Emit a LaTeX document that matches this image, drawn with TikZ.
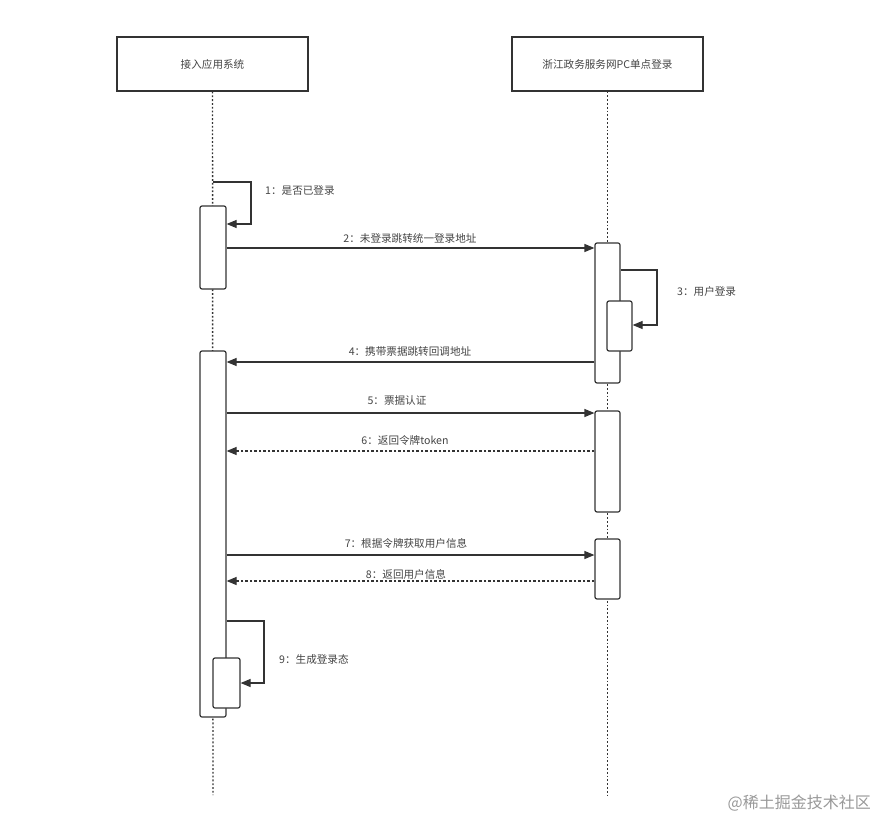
\documentclass[tikz,border=0pt]{standalone}
\usepackage{fontspec}
\setmainfont{Noto Sans CJK SC}
\newfontfamily\cjk{Noto Sans CJK SC}
\usetikzlibrary{arrows.meta}
\definecolor{ln}{HTML}{333333}
\definecolor{tx}{HTML}{444444}
\tikzset{
  actor/.style={draw=ln, line width=1.3pt, fill=white, minimum width=191pt, minimum height=54pt, inner sep=0pt, text=tx, font=\cjk\fontsize{10.6}{12}\selectfont},
  bar/.style={draw=ln, line width=1.2pt, fill=white, rounded corners=2pt, minimum width=25pt, inner sep=0pt},
  lifeline/.style={draw=ln, line width=1.4pt, dash pattern=on 1.8pt off 2pt},
  msg/.style={draw=ln, line width=1.2pt, -{Triangle[length=10pt,width=8pt]}},
  ret/.style={msg, dash pattern=on 2.5pt off 2pt},
  lbl/.style={text=tx, font=\cjk\fontsize{10.6}{12}\selectfont, inner sep=1pt},
}
\begin{document}
\begin{tikzpicture}[x=1pt,y=-1pt]
\useasboundingbox[fill=white] (0,0) rectangle (875,821);
% actors
\node[actor] (a) at (212.5,64) {接入应用系统};
\node[actor] (s) at (607.5,64) {浙江政务服务网PC单点登录};
\coordinate (aend) at (213,795);
\coordinate (send) at (607.5,795);
\draw[lifeline] (a.south) -- (aend);
\draw[lifeline] (s.south) -- (send);
% activation bars
\node[bar, minimum width=26pt, minimum height=83pt] (b1) at (213,247.5) {};
\node[bar, minimum height=140pt] (r1) at (607.5,313) {};
\node[bar, minimum height=50pt] (r1n) at (619.5,326) {};
\node[bar, minimum width=26pt, minimum height=366pt] (b2) at (213,534) {};
\node[bar, minimum height=101pt] (r2) at (607.5,461.5) {};
\node[bar, minimum height=60pt] (r3) at (607.5,569) {};
\node[bar, minimum width=27pt, minimum height=50pt] (b2n) at (226.5,683) {};
% 1 self call
\coordinate (l1s) at (213,182);
\draw[msg] (l1s) -- (251,182) -- (251,224) -- (b1.east |- 0,224);
\node[lbl, anchor=west] (t1) at (264,190) {1：是否已登录};
% 2
\draw[msg] (b1.east |- 0,248) -- (r1.west |- 0,248);
\node[lbl] (t2) at (410,238) {2：未登录跳转统一登录地址};
% 3 self call
\draw[msg] (r1.east |- 0,270) -- (657,270) -- (657,325) -- (r1n.east |- 0,325);
\node[lbl, anchor=west] (t3) at (676,291) {3：用户登录};
% 4
\draw[msg] (r1.west |- 0,362) -- (b2.east |- 0,362);
\node[lbl] (t4) at (410,351) {4：携带票据跳转回调地址};
% 5
\draw[msg] (b2.east |- 0,413) -- (r2.west |- 0,413);
\node[lbl] (t5) at (397,400) {5：票据认证};
% 6
\draw[ret] (r2.west |- 0,451) -- (b2.east |- 0,451);
\node[lbl] (t6) at (405,440) {6：返回令牌token};
% 7
\draw[msg] (b2.east |- 0,555) -- (r3.west |- 0,555);
\node[lbl] (t7) at (406,543) {7：根据令牌获取用户信息};
% 8
\draw[ret] (r3.west |- 0,581) -- (b2.east |- 0,581);
\node[lbl] (t8) at (406,574) {8：返回用户信息};
% 9 self call
\draw[msg] (b2.east |- 0,621) -- (264,621) -- (264,683) -- (b2n.east |- 0,683);
\node[lbl, anchor=west] (t9) at (278,659) {9：生成登录态};
% watermark
\node[anchor=east, text=black!40, font=\cjk\fontsize{16}{18}\selectfont, inner sep=0pt] (wm) at (871,803) {@稀土掘金技术社区};
\end{tikzpicture}
\end{document}
